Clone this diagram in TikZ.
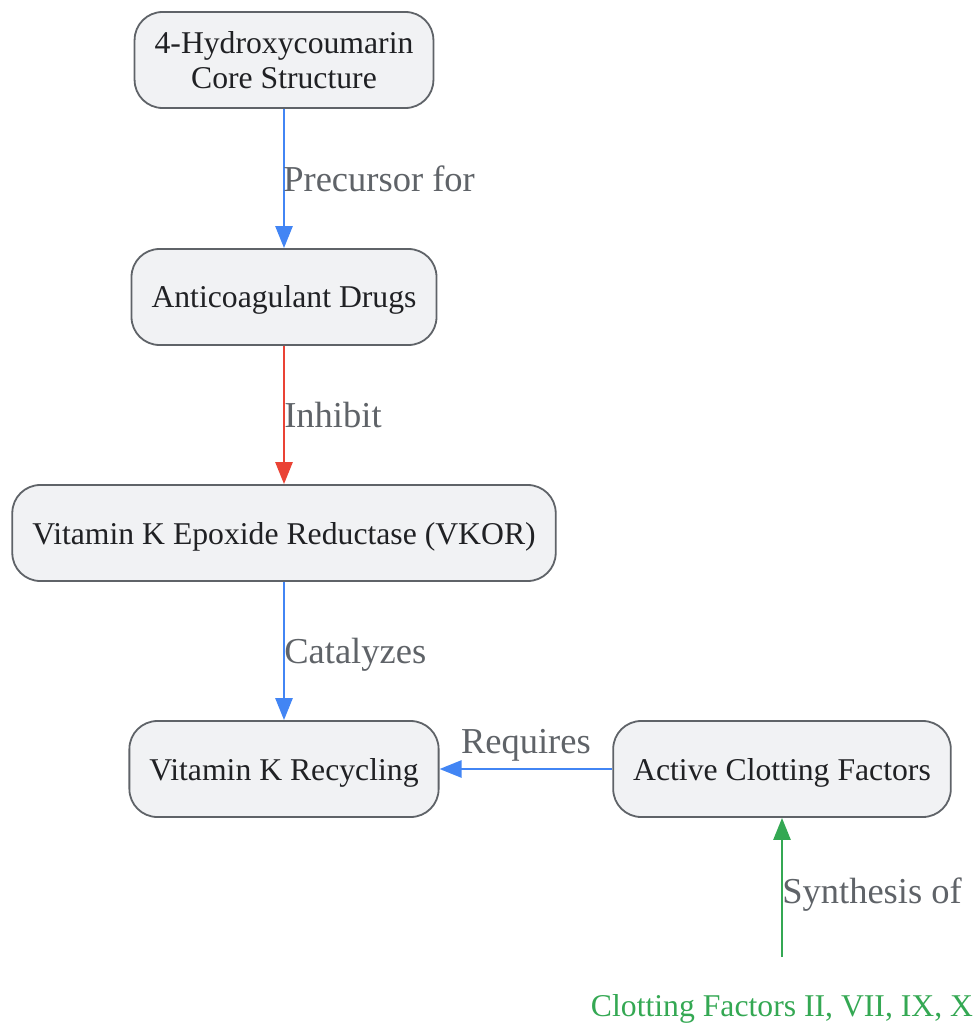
\documentclass[tikz,border=0pt]{standalone}
\usepackage{fontspec}
\setmainfont{Liberation Serif}
\usetikzlibrary{arrows.meta}
\definecolor{boxfill}{HTML}{F1F2F4}
\definecolor{boxline}{HTML}{5F6368}
\definecolor{boxtext}{HTML}{202124}
\definecolor{lblgrey}{HTML}{5F6368}
\definecolor{lnblue}{HTML}{4285F4}
\definecolor{lnred}{HTML}{EA4335}
\definecolor{lngreen}{HTML}{34A853}
\tikzset{
	stepbox/.style={draw=boxline, fill=boxfill, text=boxtext, line width=1.8pt, rounded corners=28pt,
		minimum height=96pt, inner xsep=20pt, text depth=0pt, align=center, font=\fontsize{31.7}{35}\selectfont},
	lbl/.style={text=lblgrey, inner sep=0pt, text depth=0pt, font=\fontsize{36.5}{40}\selectfont},
	link/.style={line width=2.6pt, -{Triangle[length=22pt,width=17pt]}}
}

\begin{document}
\begin{tikzpicture}[x=1pt, y=-1pt]
			%%%%% START %%%%%
			
			\useasboundingbox (0, 0) rectangle (978, 1024);
			
			\node[stepbox] (core) at (284, 60) {4-Hydroxycoumarin\\Core Structure};
			\node[stepbox] (drugs) at (284, 297) {Anticoagulant Drugs};
			\node[stepbox] (vkor) at (284, 533) {Vitamin K Epoxide Reductase (VKOR)};
			\node[stepbox] (recyc) at (284, 769) {Vitamin K Recycling};
			\node[stepbox] (active) at (782, 769) {Active Clotting Factors};
			
			\node[text=lngreen, inner sep=0pt, font=\fontsize{31.7}{35}\selectfont] (factors) at (782, 1009) {Clotting Factors II, VII, IX, X};
			\coordinate (ftop) at (782, 957);
			
			\draw[link, lnblue] (core) -- (drugs) node[lbl, midway, anchor=west, xshift=-2pt] {Precursor for};
			\draw[link, lnred] (drugs) -- (vkor) node[lbl, midway, anchor=west, xshift=-1pt] {Inhibit};
			\draw[link, lnblue] (vkor) -- (recyc) node[lbl, midway, anchor=west, xshift=-1pt] {Catalyzes};
			\draw[link, lnblue] (active) -- (recyc) node[lbl, midway, above=14pt] {Requires};
			\draw[link, lngreen] (ftop) -- (active) node[lbl, pos=0.48, anchor=west, xshift=-1pt] {Synthesis of};
			
			%%%%% END %%%%%
		\end{tikzpicture}
\end{document}
